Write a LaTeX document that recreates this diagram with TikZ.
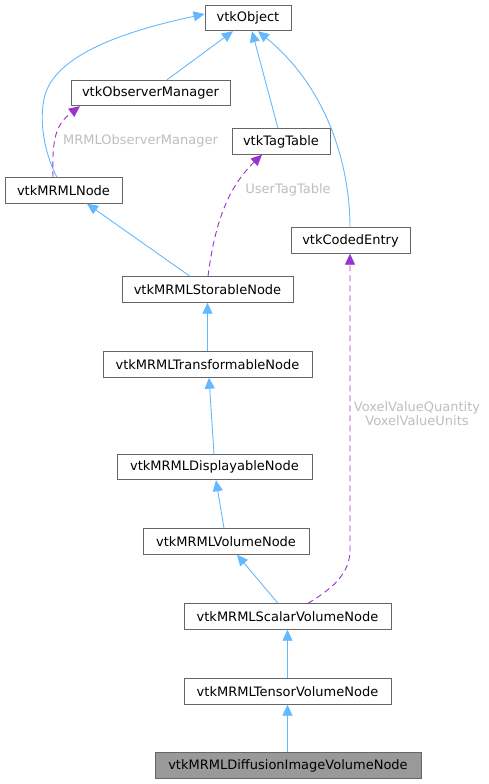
\documentclass[tikz,border=0pt]{standalone}
\usepackage{fontspec}
\setmainfont{DejaVu Sans}
\usetikzlibrary{arrows.meta}
\definecolor{edgeblue}{HTML}{63B8FF}
\definecolor{edgepurple}{HTML}{9A32CD}
\definecolor{boxborder}{HTML}{666666}
\definecolor{labelgray}{HTML}{BEBEBE}
\definecolor{hlfill}{HTML}{999999}
\begin{document}
\begin{tikzpicture}[x=1pt,y=-1pt,
  cls/.style={draw=boxborder,line width=0.9pt,fill=white,inner sep=0pt,minimum height=25.5pt,font=\fontsize{13}{15}\selectfont,text=black},
  inh/.style={draw=edgeblue,line width=0.9pt,-{Triangle[length=11pt,width=10pt,fill=edgeblue]}},
  use/.style={draw=edgepurple,line width=0.9pt,dash pattern=on 6pt off 4pt,-{Triangle[length=11pt,width=10pt,fill=edgepurple]}},
  lbl/.style={text=labelgray,font=\fontsize{13}{14}\selectfont,align=center,inner sep=0pt}]
\useasboundingbox (0,0) rectangle (488,784);
\node[cls,minimum width=86pt] (obj) at (248,18) {vtkObject};
\node[cls,minimum width=159pt] (obs) at (150.5,93) {vtkObserverManager};
\node[cls,minimum width=98pt] (tag) at (281,141.5) {vtkTagTable};
\node[cls,minimum width=117pt] (mrml) at (63.5,190.5) {vtkMRMLNode};
\node[cls,minimum width=119pt] (coded) at (350.5,240.5) {vtkCodedEntry};
\node[cls,minimum width=171pt] (stor) at (207.5,289.5) {vtkMRMLStorableNode};
\node[cls,minimum width=209pt] (trans) at (207.5,364.5) {vtkMRMLTransformableNode};
\node[cls,minimum width=195pt] (disp) at (214.5,467) {vtkMRMLDisplayableNode};
\node[cls,minimum width=166pt] (vol) at (226,541.5) {vtkMRMLVolumeNode};
\node[cls,minimum width=207pt] (scal) at (287.5,616.5) {vtkMRMLScalarVolumeNode};
\node[cls,minimum width=207pt] (tens) at (287.5,691.5) {vtkMRMLTensorVolumeNode};
\node[cls,minimum width=266pt,fill=hlfill] (diff) at (288,765.5) {vtkMRMLDiffusionImageVolumeNode};
% inheritance
\draw[inh] ([xshift=16.5pt]obs.north) -- ([xshift=-15pt]obj.south);
\draw[inh] ([xshift=-3pt]tag.north) -- ([xshift=4pt]obj.south);
\draw[inh] ([xshift=-0.5pt]coded.north) .. controls (350,170) and (330,90) .. ([xshift=10pt]obj.south);
\draw[inh] ([xshift=-6.5pt]mrml.north) .. controls (45,155) and (38,120) .. (45,95) .. controls (58,50) and (140,28) .. ([yshift=4pt]obj.west);
\draw[inh] ([xshift=-17.5pt]stor.north) -- ([xshift=23.5pt]mrml.south);
\draw[inh] (trans.north) -- (stor.south);
\draw[inh] ([xshift=-0.5pt]disp.north) -- ([xshift=1.5pt]trans.south);
\draw[inh] ([xshift=-2pt]vol.north) -- ([xshift=1.5pt]disp.south);
\draw[inh] ([xshift=-9.5pt]scal.north) -- ([xshift=11pt]vol.south);
\draw[inh] (tens.north) -- (scal.south);
\draw[inh] ([xshift=-0.5pt]diff.north) -- (tens.south);
% usage
\draw[use] ([xshift=-10.5pt]mrml.north) .. controls (52,140) and (55,125) .. ([xshift=-70.5pt]obs.south);
\draw[use] ([xshift=0.5pt]stor.north) .. controls (214,230) and (225,190) .. ([xshift=-19pt]tag.south);
\draw[use] ([xshift=20.5pt]scal.north) .. controls (330,590) and (350,575) .. (350,550) -- ([xshift=-0.5pt]coded.south);
% labels
\node[lbl] (l1) at (140.5,141) {MRMLObserverManager};
\node[lbl] (l2) at (288,190) {UserTagTable};
\node[lbl] (l3) at (417,414) {VoxelValueQuantity\\VoxelValueUnits};
\end{tikzpicture}
\end{document}
